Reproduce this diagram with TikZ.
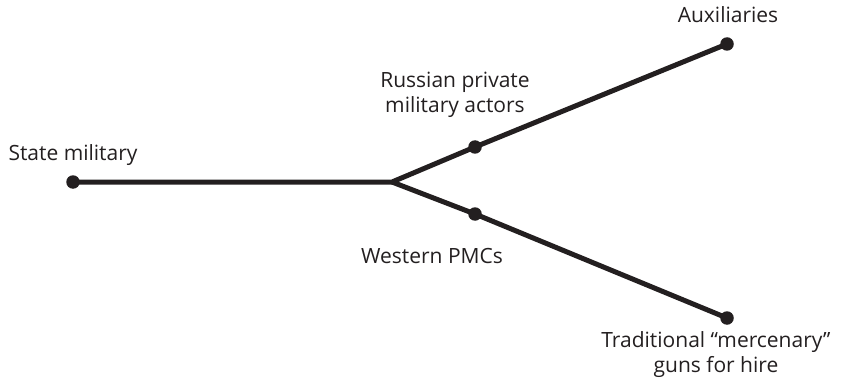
\documentclass[tikz,border=0pt]{standalone}
\usepackage{fontspec}
\setmainfont{Open Sans}
\definecolor{ink}{HTML}{231F20}
\begin{document}
\begin{tikzpicture}[x=1pt,y=-1pt,
  branch/.style={line width=5pt,draw=ink},
  dotnode/.style={circle,fill=ink,inner sep=0pt,minimum size=13.5pt},
  lbl/.style={text=ink,font=\fontsize{21}{25}\selectfont,align=center,inner sep=0pt}]
\useasboundingbox (0,0) rectangle (850,390);
\node[dotnode] (s) at (73,182) {};
\coordinate (b) at (392,182);
\node[dotnode] (r) at (475,147) {};
\node[dotnode] (a) at (727,44) {};
\node[dotnode] (w) at (475,214) {};
\node[dotnode] (t) at (727,318) {};
\draw[branch] (s.center) -- (b) -- (r.center) -- (a.center);
\draw[branch] (b) -- (w.center) -- (t.center);
\node[lbl] (ls) at (73,155) {State military};
\node[lbl] (la) at (728,15) {Auxiliaries};
\node[lbl] (lr) at (455,95) {Russian private\\military actors};
\node[lbl] (lw) at (432,256) {Western PMCs};
\node[lbl] (lt) at (716,355) {Traditional “mercenary”\\guns for hire};
\end{tikzpicture}
\end{document}
